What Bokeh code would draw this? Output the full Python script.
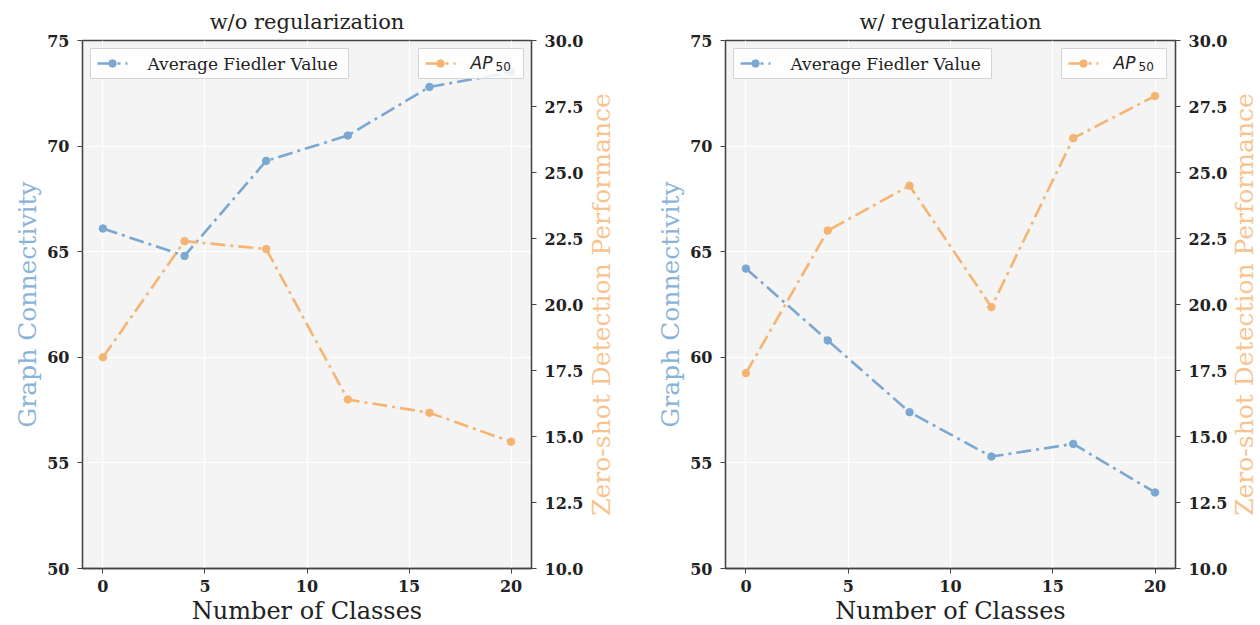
import math
from bokeh.plotting import figure
from bokeh.models import Range1d, LinearAxis, FixedTicker, PrintfTickFormatter
from bokeh.layouts import row
from bokeh.embed import file_html
from bokeh.resources import INLINE
from bokeh.core.properties import value

# ---- data ----
classes = [0, 4, 8, 12, 16, 20]
fiedler_wo = [66.1, 64.8, 69.3, 70.5, 72.8, 73.5]
ap50_wo = [18.0, 22.4, 22.1, 16.4, 15.9, 14.8]
fiedler_w = [64.2, 60.8, 57.4, 55.3, 55.9, 53.6]
ap50_w = [17.4, 22.8, 24.5, 19.9, 26.3, 27.9]
titles = ["w/o regularization", "w/ regularization"]
x_ticks = [0, 5, 10, 15, 20]
left_ticks = [50, 55, 60, 65, 70, 75]
right_ticks = [10.0, 12.5, 15.0, 17.5, 20.0, 22.5, 25.0, 27.5, 30.0]
legend_fiedler = "Average Fiedler Value"
legend_ap = ("AP", "50")
xlabel = "Number of Classes"
ylabel_left = "Graph Connectivity"
ylabel_right = "Zero-shot Detection Performance"

BLUE = "#7aa8d2"
ORANGE = "#f6b472"
BLUE_LBL = "#8ab3d8"
ORANGE_LBL = "#f8c38e"
SERIF = "DejaVu Serif"
DASH = "15 5 3 5"

X0, X1 = -1, 21
YL0, YL1 = 50, 75
YR0, YR1 = 10, 30
FH = 528


def make_panel(title, fied, ap, fw, bl, br):
    p = figure(frame_width=fw, frame_height=FH, output_backend="svg",
               toolbar_location=None, x_range=Range1d(X0, X1),
               y_range=Range1d(YL0, YL1),
               min_border_left=bl, min_border_right=br,
               min_border_top=40, min_border_bottom=50)
    p.extra_y_ranges = {"ap": Range1d(YR0, YR1)}
    p.background_fill_color = "#f4f4f4"
    p.border_fill_color = "white"
    p.outline_line_color = "#444444"
    p.outline_line_width = 1.3

    p.title.text = title
    p.title.align = "center"
    p.title.text_font = SERIF
    p.title.text_font_size = "21px"
    p.title.text_font_style = "normal"
    p.title.text_color = "#222222"
    p.title.standoff = 14

    p.xgrid.grid_line_color = "white"
    p.ygrid.grid_line_color = "white"
    p.xgrid.grid_line_width = 1.2
    p.ygrid.grid_line_width = 1.2

    p.xaxis.ticker = FixedTicker(ticks=x_ticks)
    p.yaxis.ticker = FixedTicker(ticks=left_ticks)
    p.xaxis.axis_label = xlabel
    p.yaxis.axis_label = ylabel_left

    ax_r = LinearAxis(y_range_name="ap", ticker=FixedTicker(ticks=right_ticks),
                      formatter=PrintfTickFormatter(format="%.1f"))
    p.add_layout(ax_r, "right")

    for ax in [p.xaxis[0], p.yaxis[0], ax_r]:
        ax.major_label_text_font = SERIF
        ax.major_label_text_font_size = "16px"
        ax.major_label_text_font_style = "bold"
        ax.major_label_text_color = "#222222"
        ax.major_tick_out = 5
        ax.major_tick_in = 0
        ax.minor_tick_out = 0
        ax.minor_tick_in = 0
        ax.axis_line_color = "#444444"
        ax.axis_line_width = 1.3
        ax.major_tick_line_color = "#444444"
        ax.axis_label_text_font = SERIF
        ax.axis_label_text_font_style = "normal"
        ax.major_label_standoff = 6

    p.xaxis.axis_label_text_font_size = "24px"
    p.xaxis.axis_label_text_color = "#222222"
    p.xaxis.axis_label_standoff = 2
    p.yaxis.axis_label_text_font_size = "25px"
    p.yaxis.axis_label_text_color = BLUE_LBL
    p.yaxis.axis_label_standoff = 2
    p.yaxis.major_label_standoff = 8

    # data
    p.line(classes, fied, line_color=BLUE, line_width=2.6, line_dash=DASH)
    p.scatter(classes, fied, size=7.5, fill_color=BLUE, line_color=BLUE)
    p.line(classes, ap, line_color=ORANGE, line_width=2.6, line_dash=DASH,
           y_range_name="ap")
    p.scatter(classes, ap, size=7.5, fill_color=ORANGE, line_color=ORANGE,
              y_range_name="ap")

    # frame-pixel -> data helpers (for legend placement)
    def dx(px):
        return X0 + px / fw * (X1 - X0)

    def dy(py):
        return YL1 - py / FH * (YL1 - YL0)

    for (l, r, col) in [(8, 266, BLUE), (336, 441, ORANGE)]:
        p.quad(left=[dx(l)], right=[dx(r)], top=[dy(8)], bottom=[dy(38)],
               fill_color="white", fill_alpha=0.85, line_color="#d4d4d4",
               line_width=1)
        p.line([dx(l + 7), dx(l + 37)], [dy(23), dy(23)], line_color=col,
               line_width=2.6, line_dash=DASH)
        p.scatter([dx(l + 22)], [dy(23)], size=7.5, fill_color=col, line_color=col)

    p.text([dx(8 + 57)], [dy(23)], text=[legend_fiedler], text_font=value(SERIF),
           text_font_size="17px", text_align="left", text_baseline="middle",
           text_color="#222222")
    p.text([dx(336 + 52)], [dy(22)], text=[legend_ap[0]],
           text_font=value("DejaVu Sans"), text_font_style="italic",
           text_font_size="17px", text_align="left", text_baseline="middle",
           text_color="#222222")
    p.text([dx(336 + 77)], [dy(26)], text=[legend_ap[1]],
           text_font=value("DejaVu Sans"),
           text_font_size="12px", text_align="left", text_baseline="middle",
           text_color="#222222")
    return p


def make_side_label(text, w):
    # narrow strip holding the right-hand axis title, reading bottom-to-top
    s = figure(frame_width=w, frame_height=FH, output_backend="svg",
               toolbar_location=None, x_range=Range1d(0, 1), y_range=Range1d(0, 1),
               x_axis_location=None, y_axis_location=None,
               min_border_left=0, min_border_right=0,
               min_border_top=40, min_border_bottom=0)
    s.outline_line_color = None
    s.background_fill_color = "white"
    s.border_fill_color = "white"
    s.xgrid.visible = False
    s.ygrid.visible = False
    s.text([0.5], [0.5], text=[text], angle=math.pi / 2, text_align="center",
           text_baseline="middle", text_font=value(SERIF), text_font_size="25px",
           text_color=ORANGE_LBL)
    return s


p1 = make_panel(titles[0], fiedler_wo, ap50_wo, 449, 82, 55)
s1 = make_side_label(ylabel_right, 30)
p2 = make_panel(titles[1], fiedler_w, ap50_w, 450, 109, 55)
s2 = make_side_label(ylabel_right, 28)
layout = row(p1, s1, p2, s2)

open("out.html", "w").write(file_html(layout, INLINE))
